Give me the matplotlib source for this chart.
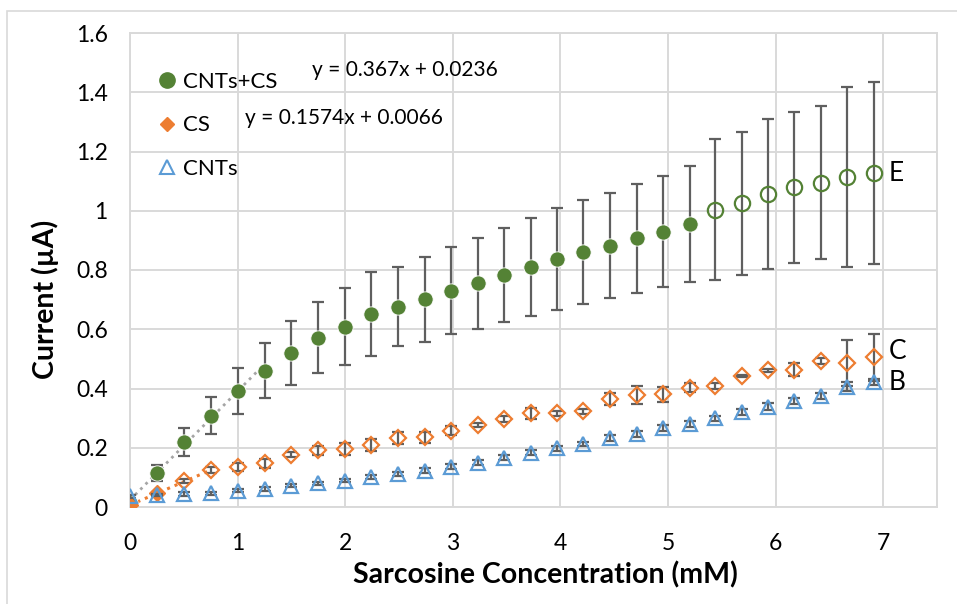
import numpy as np
import matplotlib
matplotlib.use("Agg")
import matplotlib.pyplot as plt
from matplotlib.lines import Line2D
from matplotlib.patches import Rectangle

plt.rcParams['font.family'] = ['Lato', 'DejaVu Sans']

# data
conc = [0, 0.25, 0.5, 0.75, 1.0, 1.25, 1.5, 1.75, 2.0, 2.24, 2.49, 2.74, 2.98, 3.23, 3.48,
        3.73, 3.97, 4.21, 4.46, 4.71, 4.95, 5.2, 5.44, 5.69, 5.93, 6.17, 6.42, 6.66, 6.91]

cnts_cs = [0.012, 0.116, 0.218, 0.308, 0.392, 0.460, 0.521, 0.572, 0.609, 0.651, 0.676, 0.701,
           0.730, 0.755, 0.782, 0.811, 0.836, 0.860, 0.882, 0.907, 0.929, 0.956, 1.003, 1.025,
           1.056, 1.079, 1.094, 1.114, 1.127]
cnts_cs_err = [0.005, 0.027, 0.047, 0.062, 0.078, 0.092, 0.108, 0.120, 0.130, 0.142, 0.134, 0.143,
               0.147, 0.153, 0.159, 0.166, 0.172, 0.176, 0.178, 0.184, 0.188, 0.196, 0.238, 0.242,
               0.254, 0.256, 0.258, 0.304, 0.306]
cnts_cs_nfilled = 22   # the rest are hollow

cs = [0.007, 0.046, 0.088, 0.125, 0.135, 0.147, 0.176, 0.192, 0.195, 0.209, 0.232, 0.235,
      0.258, 0.277, 0.297, 0.316, 0.316, 0.323, 0.364, 0.378, 0.380, 0.403, 0.410, 0.442,
      0.461, 0.464, 0.492, 0.485, 0.505]
cs_err = [0.003, 0.005, 0.008, 0.010, 0.015, 0.015, 0.008, 0.015, 0.020, 0.020, 0.020, 0.018,
          0.015, 0.007, 0.010, 0.018, 0.008, 0.008, 0.020, 0.029, 0.024, 0.015, 0.010, 0.003,
          0.005, 0.022, 0.010, 0.078, 0.078]
cs_nfilled = 2

cnts = [0.037, 0.040, 0.043, 0.046, 0.055, 0.060, 0.071, 0.080, 0.089, 0.102, 0.111, 0.123,
        0.136, 0.150, 0.166, 0.183, 0.198, 0.213, 0.232, 0.246, 0.266, 0.280, 0.299, 0.320,
        0.339, 0.359, 0.376, 0.406, 0.421]
cnts_err = [0.005, 0.003, 0.006, 0.006, 0.006, 0.006, 0.005, 0.005, 0.006, 0.006, 0.006, 0.008,
            0.008, 0.008, 0.008, 0.008, 0.008, 0.008, 0.010, 0.010, 0.010, 0.010, 0.008, 0.010,
            0.012, 0.010, 0.010, 0.015, 0.010]

# linear fits shown on the chart
fit_slope = [0.367, 0.1574]
fit_icpt = [0.0236, 0.0066]
fit_xmax = [1.25, 0.75]

series_names = ['CNTs+CS', 'CS', 'CNTs']
end_labels = ['E', 'C', 'B']
xticks = [0, 1, 2, 3, 4, 5, 6, 7]
yticks = [0, 0.2, 0.4, 0.6, 0.8, 1, 1.2, 1.4, 1.6]
ytick_labels = ['0', '0.2', '0.4', '0.6', '0.8', '1', '1.2', '1.4', '1.6']

GREEN = '#548235'
ORANGE = '#ED7D31'
BLUE = '#5B9BD5'
ERR = '#5F5F5F'
GRID = '#D9D9D9'

###############################################################################

fig = plt.figure(figsize=(9.57, 6.04), dpi=100)
ax = fig.add_axes([130/957, 1-507/604, 807/957, 474/604])

# outer chart frame
fig.patches.append(Rectangle((7/957, -0.1), 1.2, 1-11/604+0.1, transform=fig.transFigure,
                             fill=False, edgecolor=GRID, lw=1.2))

ax.set_xlim(0, 7.5)
ax.set_ylim(0, 1.6)
ax.set_xticks(xticks)
ax.set_yticks(yticks)
ax.set_yticklabels(ytick_labels)
ax.grid(True, color=GRID, lw=1.4, zorder=0)
ax.set_axisbelow(True)
for s in ax.spines.values():
    s.set_color(GRID)
    s.set_linewidth(1.4)
ax.tick_params(length=0, labelsize=16.5, colors='black')
ax.tick_params(axis='x', pad=19)
ax.tick_params(axis='y', pad=16)

ax.set_xlabel('Sarcosine Concentration (mM)', fontsize=20.5, fontweight='bold', va='center')
ax.set_ylabel('Current (µA)', fontsize=20.5, fontweight='bold', va='center')
ax.xaxis.set_label_coords(0.515, -0.143)
ax.yaxis.set_label_coords(-0.105, 0.437)

x = np.array(conc)
ekw = dict(fmt='none', ecolor=ERR, elinewidth=1.6, capsize=4, capthick=1.6)

# trend lines
for sl, ic, xm, col in zip(fit_slope, fit_icpt, fit_xmax, ['#A5A5A5', ORANGE]):
    xx = np.array([0, xm])
    ax.plot(xx, sl*xx + ic, ':', color=col, lw=2.2 if col == ORANGE else 2, zorder=2)

# CNTs+CS
ax.errorbar(x, cnts_cs, yerr=cnts_cs_err, zorder=2, **ekw)
n = cnts_cs_nfilled
ax.plot(x[:n], cnts_cs[:n], 'o', color=GREEN, ms=11, mec='white', mew=0.6, zorder=3)
ax.plot(x[n:], cnts_cs[n:], 'o', mfc='none', mec=GREEN, mew=1.6, ms=11, zorder=3)

# CS
ax.errorbar(x, cs, yerr=cs_err, zorder=4, **ekw)
n = cs_nfilled
ax.plot(x[:n], cs[:n], 'D', color=ORANGE, ms=8, zorder=4)
ax.plot(x[n:], cs[n:], 'D', mfc='none', mec=ORANGE, mew=1.6, ms=8, zorder=4)

# CNTs
ax.errorbar(x, cnts, yerr=cnts_err, zorder=5, **ekw)
ax.plot(x, cnts, '^', mfc='none', mec=BLUE, mew=1.6, ms=10, zorder=5)

# legend
handles = [Line2D([], [], ls='none', marker='o', color=GREEN, ms=11),
           Line2D([], [], ls='none', marker='D', color=ORANGE, ms=7),
           Line2D([], [], ls='none', marker='^', mfc='none', mec=BLUE, mew=1.5, ms=10)]
ax.legend(handles, series_names, loc='upper left', bbox_to_anchor=(0.01, 0.96),
          frameon=False, fontsize=16, handlelength=0.8, handletextpad=0.3,
          labelspacing=1.05)

# equations
ax.text(1.69, 1.475, 'y = 0.367x + 0.0236', fontsize=15, va='center', ha='left')
ax.text(1.07, 1.313, 'y = 0.1574x + 0.0066', fontsize=15, va='center', ha='left')

# end labels
for lab, yy in zip(end_labels, [cnts_cs[-1], cs[-1] + 0.02, cnts[-1]]):
    ax.text(x[-1] + 0.14, yy, lab, fontsize=19, va='center', ha='left')

fig.savefig('out.png', dpi=100)
